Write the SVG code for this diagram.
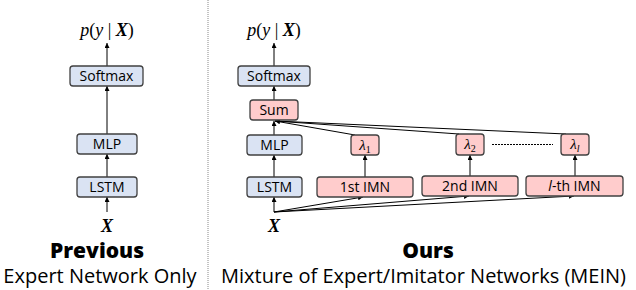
<svg xmlns="http://www.w3.org/2000/svg" width="636" height="290" viewBox="0 0 636 290">
<defs>
<marker id="ah" viewBox="0 0 10 10" refX="10" refY="5" markerWidth="5" markerHeight="5" markerUnits="userSpaceOnUse" orient="auto">
<path d="M0,0 L10,5 L0,10 z" fill="#000"/>
</marker>
<style>
.blue{fill:#dae3f3;stroke:#404040;stroke-width:1.3}
.pink{fill:#ffcccc;stroke:#404040;stroke-width:1.3}
.lbl{font-family:"Open Sans",sans-serif;font-size:14px;fill:#000;text-anchor:middle}
.math{font-family:"Liberation Serif",serif;font-size:18px;fill:#000;text-anchor:middle}
.lam{font-family:"Liberation Serif",serif;font-size:15px;font-style:italic;fill:#000;text-anchor:middle}
.title{font-family:"Open Sans",sans-serif;font-size:21px;font-weight:800;fill:#000;text-anchor:middle}
.sub{font-family:"Open Sans",sans-serif;font-size:20px;fill:#000;text-anchor:middle}
.c{stroke:#000;stroke-width:1;fill:none}
.ca{stroke:#000;stroke-width:1;fill:none;marker-end:url(#ah)}
</style>
</defs>
<rect width="636" height="290" fill="#fff"/>
<line x1="208" y1="0" x2="208" y2="290" stroke="#888" stroke-width="1" stroke-dasharray="1,1"/>

<g id="connectors">
<line class="ca" x1="107" y1="212" x2="107" y2="197"/>
<line class="ca" x1="107" y1="177" x2="107" y2="154"/>
<line class="ca" x1="107" y1="134" x2="107" y2="86"/>
<line class="ca" x1="107" y1="66" x2="107" y2="43"/>
<line class="ca" x1="274" y1="212" x2="274" y2="197"/>
<line class="ca" x1="274" y1="177" x2="274" y2="155"/>
<line class="ca" x1="274" y1="135" x2="274" y2="121"/>
<line class="ca" x1="274" y1="100" x2="274" y2="86"/>
<line class="ca" x1="274" y1="66" x2="274" y2="43"/>
<line class="ca" x1="274" y1="212" x2="363" y2="197"/>
<line class="ca" x1="274" y1="212" x2="469" y2="196"/>
<line class="ca" x1="274" y1="212" x2="574" y2="196"/>
<line class="ca" x1="365" y1="177" x2="365" y2="155"/>
<line class="ca" x1="470" y1="176" x2="470" y2="155"/>
<line class="ca" x1="575" y1="176" x2="575" y2="155"/>
<line class="ca" x1="355" y1="135" x2="275" y2="121"/>
<line class="c" x1="459" y1="134" x2="275" y2="121"/>
<line class="c" x1="566" y1="134" x2="275" y2="121"/>
<line class="c" x1="492" y1="144.5" x2="553" y2="144.5" stroke-dasharray="2,1"/>
</g>

<g id="left-output"><text class="math" x="107" y="36"><tspan font-style="italic">p</tspan>(<tspan font-style="italic">y</tspan> | <tspan font-style="italic" font-weight="bold">X</tspan>)</text></g>
<g id="left-softmax"><rect class="blue" x="70" y="66" width="73" height="20" rx="3"/><text class="lbl" x="106.5" y="81">Softmax</text></g>
<g id="left-mlp"><rect class="blue" x="77" y="134" width="60" height="20" rx="3"/><text class="lbl" x="107" y="149">MLP</text></g>
<g id="left-lstm"><rect class="blue" x="77" y="177" width="60" height="20" rx="3"/><text class="lbl" x="107" y="192">LSTM</text></g>
<g id="left-x"><text class="math" x="107" y="232" font-size="16" font-style="italic" font-weight="bold">X</text></g>

<g id="right-output"><text class="math" x="274" y="36"><tspan font-style="italic">p</tspan>(<tspan font-style="italic">y</tspan> | <tspan font-style="italic" font-weight="bold">X</tspan>)</text></g>
<g id="right-softmax"><rect class="blue" x="238" y="66" width="72" height="20" rx="3"/><text class="lbl" x="274" y="81">Softmax</text></g>
<g id="sum"><rect class="pink" x="250" y="100" width="48" height="20" rx="3"/><text class="lbl" x="274" y="115">Sum</text></g>
<g id="right-mlp"><rect class="blue" x="247" y="135" width="55" height="20" rx="3"/><text class="lbl" x="274.5" y="150">MLP</text></g>
<g id="right-lstm"><rect class="blue" x="247" y="177" width="55" height="20" rx="3"/><text class="lbl" x="274.5" y="192">LSTM</text></g>
<g id="right-x"><text class="math" x="274" y="232" font-size="16" font-style="italic" font-weight="bold">X</text></g>

<g id="lambda1"><rect class="pink" x="351" y="135" width="28" height="20" rx="3"/><text class="lam" x="365" y="149.5">λ<tspan font-style="normal" font-size="10" dy="3">1</tspan></text></g>
<g id="lambda2"><rect class="pink" x="456" y="134" width="28" height="21" rx="3"/><text class="lam" x="470" y="149">λ<tspan font-style="normal" font-size="10" dy="3">2</tspan></text></g>
<g id="lambdal"><rect class="pink" x="561" y="134" width="28" height="21" rx="3"/><text class="lam" x="575" y="149">λ<tspan font-size="10" dy="3">l</tspan></text></g>

<g id="imn1"><rect class="pink" x="317" y="177" width="96" height="20" rx="3"/><text class="lbl" x="365" y="192">1st IMN</text></g>
<g id="imn2"><rect class="pink" x="422" y="176" width="96" height="20" rx="3"/><text class="lbl" x="470" y="191">2nd IMN</text></g>
<g id="imnl"><rect class="pink" x="526" y="176" width="97" height="20" rx="3"/><text class="lbl" x="574.5" y="191"><tspan font-style="italic">l</tspan>-th IMN</text></g>

<g id="captions">
<text class="title" x="97" y="258">Previous</text>
<text class="sub" x="100" y="283">Expert Network Only</text>
<text class="title" x="428" y="258" font-size="20">Ours</text>
<text class="sub" x="423.5" y="283">Mixture of Expert/Imitator Networks (MEIN)</text>
</g>
</svg>
